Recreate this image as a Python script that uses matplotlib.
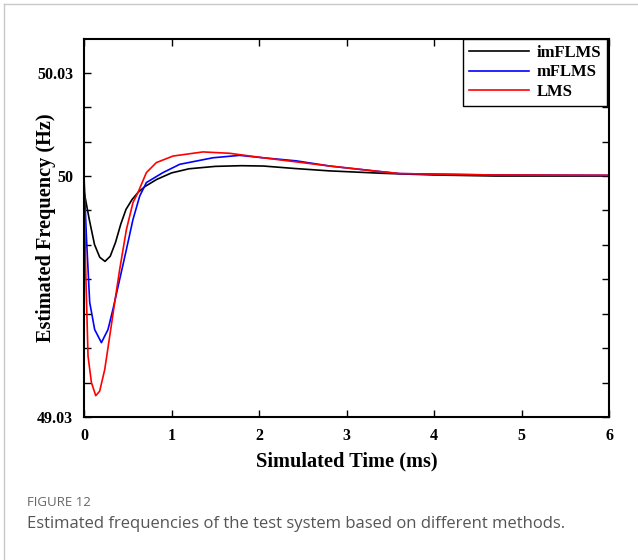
import matplotlib
matplotlib.use("Agg")
import matplotlib.pyplot as plt
from matplotlib.lines import Line2D

# ---------------- data ----------------
t_im = [0, 0.06, 0.12, 0.18, 0.24, 0.30, 0.36, 0.42, 0.48, 0.55, 0.62, 0.70, 0.83,
        1.0, 1.2, 1.5, 1.8, 2.05, 2.4, 2.8, 3.4, 4.0, 4.7, 6.0]
f_im = [49.9956, 49.9874, 49.9801, 49.9764, 49.9752, 49.9767, 49.9807, 49.9860,
        49.9903, 49.9932, 49.9953, 49.9970, 49.9990, 50.0009, 50.0021, 50.0028,
        50.0030, 50.0029, 50.0022, 50.0015, 50.0008, 50.0003, 50.0000, 50.0000]

t_m = [0, 0.027, 0.065, 0.122, 0.199, 0.274, 0.331, 0.408, 0.485, 0.56, 0.637,
       0.713, 0.903, 1.094, 1.474, 1.779, 2.046, 2.427, 2.808, 3.379, 3.608,
       4.67, 6.0]
f_m = [50.0000, 49.9826, 49.9633, 49.9554, 49.9516, 49.9554, 49.9613, 49.9700,
       49.9787, 49.9874, 49.9942, 49.9981, 50.0010, 50.0034, 50.0053, 50.0060,
       50.0053, 50.0044, 50.0029, 50.0013, 50.0007, 50.0003, 50.0002]

t_lms = [0, 0.019, 0.046, 0.085, 0.134, 0.179, 0.237, 0.294, 0.351, 0.408, 0.485,
         0.56, 0.617, 0.713, 0.827, 1.017, 1.36, 1.665, 2.046, 2.427, 2.808,
         3.379, 3.608, 4.67, 6.0]
f_lms = [50.0000, 49.9729, 49.9477, 49.9400, 49.9362, 49.9375, 49.9438, 49.9535,
         49.9633, 49.9729, 49.9845, 49.9923, 49.9952, 50.0010, 50.0039, 50.0058,
         50.0070, 50.0066, 50.0053, 50.0041, 50.0029, 50.0013, 50.0007, 50.0003,
         50.0002]

series_labels = ["imFLMS", "mFLMS", "LMS"]
series_colors = ["#000000", "#0000ff", "#ff0000"]

x_ticks = [0, 1, 2, 3, 4, 5, 6]
y_ticks = [49.93, 49.94, 49.95, 49.96, 49.97, 49.98, 49.99, 50.00, 50.01, 50.02, 50.03]
y_ticklabels = ["49.03", "", "", "", "", "", "", "50", "", "", "50.03"]

# ---------------- figure ----------------
fig = plt.figure(figsize=(6.38, 5.6), dpi=100)
ax = fig.add_axes([84/638, 1-417/560, (609-84)/638, (417-39)/560])

serif = "Liberation Serif"
for tt, ff, lab, col in zip([t_im, t_m, t_lms], [f_im, f_m, f_lms],
                             series_labels, series_colors):
    ax.plot(tt, ff, color=col, lw=1.2, label=lab)

ax.set_xlim(0, 6)
ax.set_ylim(49.93, 50.0398)
ax.set_xticks(x_ticks)
ax.set_xticklabels([str(v) for v in x_ticks], fontfamily=serif, fontweight="bold", fontsize=11.5)
ax.set_yticks(y_ticks)
ax.set_yticklabels(y_ticklabels, fontfamily=serif, fontweight="bold", fontsize=11.5)
ax.tick_params(direction="in", length=5, width=1, top=True, right=True, pad=8)
for s in ax.spines.values():
    s.set_linewidth(1.5)

ax.set_xlabel("Simulated Time (ms)", fontfamily=serif, fontweight="bold", fontsize=14.7, labelpad=5)
ax.set_ylabel("Estimated Frequency (Hz)", fontfamily=serif, fontweight="bold", fontsize=14.6)
ax.yaxis.set_label_coords((56 - 84) / 525, 0.5)

leg = ax.legend(loc="upper right", bbox_to_anchor=(0.996, 1.0), borderaxespad=0,
                prop={"family": serif, "weight": "bold", "size": 12},
                frameon=True, fancybox=False, edgecolor="black", framealpha=1,
                handlelength=3.6, handletextpad=0.45, labelspacing=0.22,
                borderpad=0.35)
leg.get_frame().set_linewidth(1.0)

# figure border (left and top light gray lines)
fig.add_artist(Line2D([4/638, 4/638], [0, 1-4/560], transform=fig.transFigure,
                      color="#c8c8c8", lw=1))
fig.add_artist(Line2D([4/638, 1], [1-4/560, 1-4/560], transform=fig.transFigure,
                      color="#c8c8c8", lw=1))

fig.text(27/638, 1-502/560, "FIGURE 12", fontfamily="Open Sans", fontsize=9.5,
         color="#666666", va="center", ha="left")
fig.text(27/638, 1-524/560, "Estimated frequencies of the test system based on different methods.",
         fontfamily="Open Sans", fontsize=12, color="#555555", va="center", ha="left")

fig.savefig("out.png", dpi=100)
